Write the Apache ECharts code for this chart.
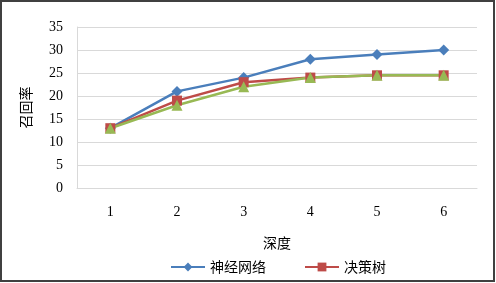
<!DOCTYPE html>
<html>
<head>
<meta charset="utf-8">
<script src="https://cdn.jsdelivr.net/npm/echarts@6/dist/echarts.min.js"></script>
<style>
html,body{margin:0;padding:0;background:#fff;}
#graph{width:496px;height:283px;}
</style>
</head>
<body>
<div id="graph"></div>
<script>
var depth = ['1', '2', '3', '4', '5', '6'];
var nnValues = [13, 21, 24, 28, 29, 30];
var treeValues = [13, 19, 23, 24, 24.5, 24.5];
var thirdValues = [13, 18, 22, 24, 24.5, 24.5];

var numFont = 'Liberation Serif';
var cnFont = 'Noto Sans CJK SC';

var chart = echarts.init(document.getElementById('graph'));
chart.setOption({
    backgroundColor: '#fff',
    animation: false,
    graphic: [{
        type: 'rect',
        shape: {x: 1, y: 1, width: 493, height: 280},
        style: {fill: 'none', stroke: '#404040', lineWidth: 2},
        silent: true
    }],
    grid: {left: 77, right: 19, top: 27, bottom: 95},
    legend: {
        left: 165,
        top: 255,
        itemWidth: 34,
        itemHeight: 11,
        itemGap: 38,
        data: ['神经网络', '决策树'],
        textStyle: {fontFamily: cnFont, fontSize: 14, color: '#000'}
    },
    xAxis: {
        type: 'category',
        data: depth,
        name: '深度',
        nameLocation: 'middle',
        nameGap: 48,
        nameTextStyle: {fontFamily: cnFont, fontSize: 14, color: '#000'},
        axisLine: {lineStyle: {color: '#d9d9d9', width: 1}},
        axisTick: {show: false},
        axisLabel: {fontFamily: numFont, fontSize: 14, color: '#000', margin: 17}
    },
    yAxis: {
        type: 'value',
        min: 0,
        max: 35,
        interval: 5,
        name: '召回率',
        nameLocation: 'middle',
        nameGap: 44,
        nameRotate: 90,
        nameTextStyle: {fontFamily: cnFont, fontSize: 14, color: '#000'},
        axisLine: {show: true, lineStyle: {color: '#d9d9d9', width: 1}},
        axisTick: {show: false},
        splitLine: {lineStyle: {color: '#d9d9d9', width: 1}},
        axisLabel: {fontFamily: numFont, fontSize: 14, color: '#000', margin: 14}
    },
    series: [{
        name: '神经网络',
        type: 'line',
        data: nnValues,
        symbol: 'diamond',
        symbolSize: 11,
        color: '#4a7ebb',
        lineStyle: {width: 2.5}
    }, {
        name: '决策树',
        type: 'line',
        data: treeValues,
        symbol: 'rect',
        symbolSize: 10,
        color: '#be4b48',
        lineStyle: {width: 2.5}
    }, {
        name: '其他',
        type: 'line',
        data: thirdValues,
        symbol: 'triangle',
        symbolSize: 11,
        color: '#98b954',
        lineStyle: {width: 2.5}
    }]
});
</script>
</body>
</html>
